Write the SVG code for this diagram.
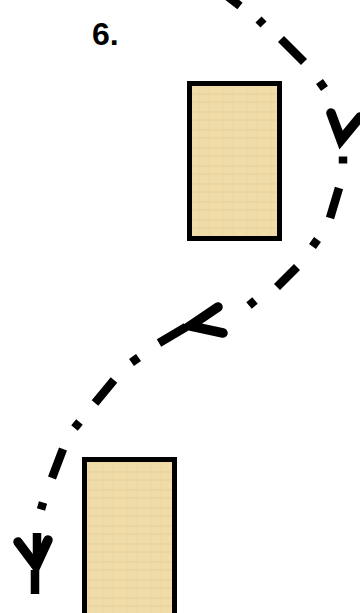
<svg xmlns="http://www.w3.org/2000/svg" width="360" height="613" viewBox="0 0 360 613">
<style>
.box{fill:url(#papyrus);stroke:#000;stroke-width:5}
.dash{fill:none;stroke:#000;stroke-width:8.5;stroke-linecap:butt}
.head{fill:none;stroke:#000;stroke-width:9.5;stroke-linecap:round;stroke-linejoin:miter}
.lbl{font-family:"Liberation Sans",Arial,sans-serif;font-weight:bold;font-size:32px;fill:#000}
</style>
<defs>
<pattern id="papyrus" patternUnits="userSpaceOnUse" width="24" height="18">
<rect width="24" height="18" fill="#F0DCA8"/>
<path d="M0 4H24M0 12H24" stroke="#DCC48A" stroke-width="1" opacity="0.5"/>
<path d="M7 0V18M17 0V18" stroke="#E6CF96" stroke-width="1" opacity="0.5"/>
</pattern>
</defs>
<text class="lbl" x="92" y="45">6.</text>
<g id="node-top">
<rect class="box" x="189.5" y="83.5" width="90" height="155"/>
</g>
<g id="node-bottom">
<rect class="box" x="84.5" y="459.5" width="90" height="160"/>
</g>
<g id="connectors">
<path class="dash" d="M222 -8L240 6 M258.5 19.5L263.5 24.5 M281 39L304 62 M319.5 81.5L324.5 88.5 M343 156.5L343 163.5 M339 188L330 218 M317.5 239.5L312.5 246.5 M297 267L277 287 M255 300.5L249 305.5 M186 327L159 343 M138.5 357.5L131.5 362.5 M114 380L95 403 M79.5 422L74.5 428 M63 449L52 478 M43 502.5L41 509.5 M37 533L37 560 M35 570L35 594"/>
<polyline class="head" points="331,113 341,140 360,117"/>
<polyline class="head" points="218,307 190,326 223,333"/>
<polyline class="head" points="18,542 36,566 48,540"/>
</g>
</svg>
